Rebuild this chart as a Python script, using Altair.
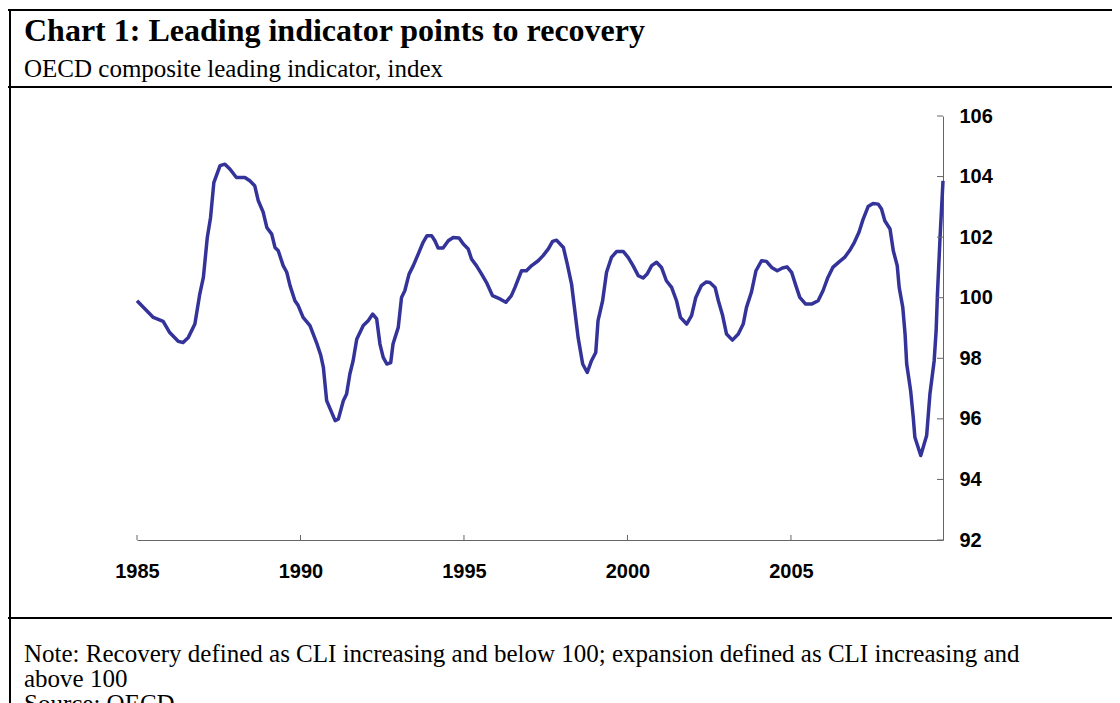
import altair as alt
import pandas as pd

# ---- data ----
years = [1985.00, 1985.50, 1985.80, 1986.00, 1986.26, 1986.41, 1986.57, 1986.77, 1986.92, 1987.03,
         1987.15, 1987.25, 1987.35, 1987.54, 1987.69, 1987.84, 1988.04, 1988.30, 1988.45, 1988.60,
         1988.71, 1988.86, 1988.97, 1989.12, 1989.22, 1989.32, 1989.47, 1989.58, 1989.68, 1989.83,
         1989.93, 1990.08, 1990.29, 1990.49, 1990.62, 1990.70, 1990.80, 1991.06, 1991.16, 1991.31,
         1991.41, 1991.51, 1991.61, 1991.72, 1991.92, 1992.07, 1992.21, 1992.33, 1992.43, 1992.53,
         1992.64, 1992.76, 1992.83, 1992.99, 1993.09, 1993.19, 1993.32, 1993.45, 1993.60, 1993.75,
         1993.87, 1994.01, 1994.11, 1994.21, 1994.36, 1994.52, 1994.67, 1994.85, 1994.98, 1995.13,
         1995.23, 1995.38, 1995.54, 1995.69, 1995.87, 1996.10, 1996.28, 1996.45, 1996.56, 1996.76,
         1996.91, 1997.07, 1997.27, 1997.42, 1997.58, 1997.71, 1997.83, 1998.04, 1998.16, 1998.29,
         1998.39, 1998.49, 1998.63, 1998.77, 1998.90, 1999.03, 1999.10, 1999.24, 1999.36, 1999.51,
         1999.67, 1999.87, 2000.02, 2000.17, 2000.33, 2000.48, 2000.60, 2000.74, 2000.89, 2001.04,
         2001.19, 2001.35, 2001.50, 2001.62, 2001.81, 2001.96, 2002.09, 2002.26, 2002.41, 2002.52,
         2002.68, 2002.78, 2002.91, 2003.03, 2003.21, 2003.39, 2003.54, 2003.64, 2003.79, 2003.93,
         2004.10, 2004.25, 2004.41, 2004.58, 2004.74, 2004.88, 2005.02, 2005.15, 2005.27, 2005.45,
         2005.63, 2005.83, 2005.98, 2006.13, 2006.28, 2006.49, 2006.64, 2006.79, 2006.94, 2007.08,
         2007.20, 2007.36, 2007.51, 2007.67, 2007.77, 2007.87, 2008.03, 2008.13, 2008.25, 2008.31,
         2008.42, 2008.49, 2008.54, 2008.66, 2008.74, 2008.79, 2008.97, 2009.15, 2009.25, 2009.38,
         2009.44, 2009.48, 2009.56, 2009.65]
cli = [99.90, 99.35, 99.22, 98.85, 98.56, 98.52, 98.69, 99.13, 100.12, 100.67,
       101.99, 102.65, 103.80, 104.36, 104.41, 104.25, 103.97, 103.97, 103.86, 103.70,
       103.20, 102.82, 102.32, 102.10, 101.66, 101.55, 101.06, 100.84, 100.40, 99.90,
       99.74, 99.35, 99.08, 98.52, 98.10, 97.70, 96.60, 95.94, 96.00, 96.60,
       96.82, 97.48, 97.92, 98.63, 99.08, 99.24, 99.46, 99.30, 98.47, 98.03,
       97.81, 97.86, 98.47, 99.02, 100.01, 100.23, 100.78, 101.06, 101.44, 101.83,
       102.05, 102.05, 101.88, 101.64, 101.64, 101.88, 101.99, 101.97, 101.77, 101.61,
       101.28, 101.06, 100.78, 100.50, 100.07, 99.96, 99.85, 100.07, 100.34, 100.89,
       100.89, 101.06, 101.22, 101.39, 101.61, 101.86, 101.90, 101.66, 101.11, 100.45,
       99.57, 98.69, 97.81, 97.53, 97.92, 98.19, 99.24, 99.90, 100.84, 101.33,
       101.53, 101.53, 101.33, 101.06, 100.73, 100.65, 100.78, 101.06, 101.17, 101.00,
       100.56, 100.34, 99.90, 99.35, 99.13, 99.41, 100.01, 100.40, 100.52, 100.50,
       100.34, 99.90, 99.41, 98.80, 98.60, 98.80, 99.13, 99.68, 100.18, 100.89,
       101.22, 101.20, 101.00, 100.89, 100.98, 101.02, 100.84, 100.40, 100.01, 99.79,
       99.79, 99.90, 100.23, 100.67, 101.00, 101.20, 101.33, 101.55, 101.83, 102.16,
       102.57, 103.01, 103.11, 103.09, 102.93, 102.54, 102.27, 101.55, 101.06, 100.34,
       99.68, 98.80, 97.81, 96.93, 96.05, 95.39, 94.79, 95.45, 96.82, 97.92,
       98.91, 100.12, 101.99, 103.86]

x_ticks = [1985, 1990, 1995, 2000, 2005]
y_ticks = [92, 94, 96, 98, 100, 102, 104, 106]

title_text = "Chart 1: Leading indicator points to recovery"
subtitle_text = "OECD composite leading indicator, index"
note_lines = [
    "Note: Recovery defined as CLI increasing and below 100; expansion defined as CLI increasing and",
    "above 100",
    "Source: OECD",
]

# ---- layout ----
W, H = 806, 424
PAD_L, PAD_T = 129, 108
SVG_W, SVG_H = 1104, 695
AXIS_COLOR = "#666666"
LINE_COLOR = "#333399"
SERIF = "Liberation Serif"
SANS = "Liberation Sans"

df = pd.DataFrame({"year": years, "cli": cli})
x_scale = alt.Scale(domain=[1985, 2009.65], nice=False, zero=False)
y_scale = alt.Scale(domain=[92, 106], nice=False, zero=False)

x_axis = alt.Axis(values=x_ticks, format="d", title=None, orient="bottom",
                  ticks=False, tickSize=0, grid=False, domainColor=AXIS_COLOR,
                  domainWidth=1, labelFont=SANS, labelFontWeight="bold",
                  labelFontSize=20, labelColor="black", labelPadding=31,
                  labelBaseline="middle", labelFlush=False, labelOverlap=False,
                  labelBound=False)
y_axis = alt.Axis(values=y_ticks, orient="right", title=None, ticks=False,
                  tickSize=0, grid=False, domainColor=AXIS_COLOR, domainWidth=1,
                  labelFont=SANS, labelFontWeight="bold", labelFontSize=20,
                  labelColor="black", labelAlign="left", labelBaseline="middle",
                  labelPadding=16, labelOverlap=False, labelBound=False,
                  labelFlush=False)

line = alt.Chart(df).mark_line(color=LINE_COLOR, strokeWidth=3.5, strokeJoin="round").encode(
    x=alt.X("year:Q", scale=x_scale, axis=x_axis),
    y=alt.Y("cli:Q", scale=y_scale, axis=y_axis),
)

# inward tick marks on both axes
ytick = alt.Chart(pd.DataFrame({"cli": y_ticks})).mark_rule(color=AXIS_COLOR, strokeWidth=1).encode(
    y=alt.Y("cli:Q", scale=y_scale, axis=y_axis),
    x=alt.value(W - 6), x2=alt.value(W),
)
xtick = alt.Chart(pd.DataFrame({"year": x_ticks})).mark_rule(color=AXIS_COLOR, strokeWidth=1).encode(
    x=alt.X("year:Q", scale=x_scale, axis=x_axis),
    y=alt.value(H - 5), y2=alt.value(H),
)


def txt(s, x, y, size, weight="normal"):
    return alt.Chart(pd.DataFrame({"s": [s]})).mark_text(
        align="left", baseline="alphabetic", font=SERIF, fontSize=size,
        fontWeight=weight, color="black").encode(
        x=alt.value(x), y=alt.value(y), text="s:N")


def hrule(y):
    return alt.Chart(pd.DataFrame({"a": [0]})).mark_rule(color="black", strokeWidth=2).encode(
        x=alt.value(-PAD_L), x2=alt.value(SVG_W), y=alt.value(y))


vrule = alt.Chart(pd.DataFrame({"a": [0]})).mark_rule(color="black", strokeWidth=2).encode(
    x=alt.value(-PAD_L + 2), y=alt.value(-PAD_T + 1), y2=alt.value(SVG_H))

texts = [
    txt(title_text, -113, -75, 32, "bold"),
    txt(subtitle_text, -113, -39, 25),
    txt(note_lines[0], -113, 546, 25),
    txt(note_lines[1], -113, 571, 25),
    txt(note_lines[2], -113, 596, 25),
]

chart = alt.layer(
    line, ytick, xtick,
    hrule(-PAD_T + 2), hrule(-29), hrule(502), vrule,
    *texts,
).properties(
    width=W, height=H,
    padding={"left": PAD_L, "top": PAD_T, "right": SVG_W - PAD_L - W, "bottom": SVG_H - PAD_T - H},
    autosize=alt.AutoSizeParams(type="none"),
    background="white",
).configure_view(stroke=None)

chart.save("out.html", embed_options={"renderer": "svg", "actions": False})
